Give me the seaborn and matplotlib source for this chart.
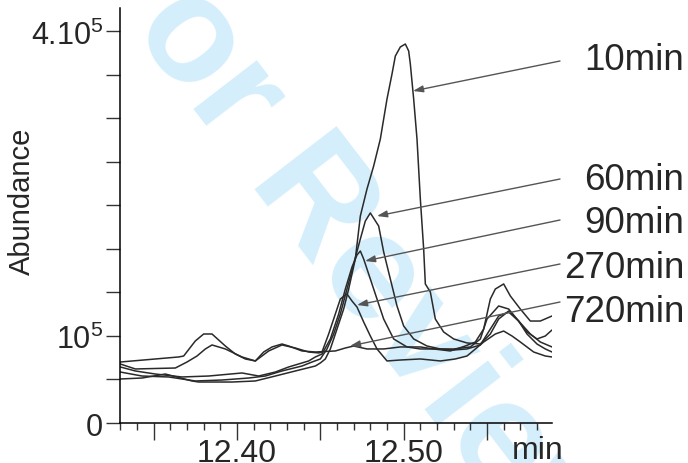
import numpy as np
import matplotlib
matplotlib.use("Agg")
import matplotlib.pyplot as plt
import seaborn as sns
import pandas as pd

# retention time (min) and abundance (x1e5)
t_10 = [12.330, 12.343, 12.357, 12.373, 12.377, 12.397, 12.411, 12.423, 12.435, 12.447,
        12.450, 12.453, 12.456, 12.460, 12.464, 12.467, 12.471, 12.474, 12.478, 12.482,
        12.486, 12.490, 12.493, 12.495, 12.498, 12.501, 12.503, 12.504, 12.506, 12.508,
        12.510, 12.512, 12.513, 12.516, 12.519, 12.524, 12.530, 12.538, 12.546, 12.552,
        12.557, 12.563, 12.569, 12.576, 12.582, 12.589]
ab_10 = [0.506, 0.517, 0.563, 0.483, 0.471, 0.471, 0.483, 0.540, 0.598, 0.655,
         0.690, 0.736, 0.851, 1.080, 1.310, 1.540, 1.885, 2.379, 2.690, 2.954,
         3.264, 3.724, 4.011, 4.218, 4.322, 4.356, 4.276, 4.126, 3.724, 3.264,
         2.575, 2.000, 1.598, 1.506, 1.195, 1.046, 0.966, 0.920, 0.908, 1.023,
         1.195, 1.287, 1.172, 1.023, 0.931, 0.874]

t_60 = [12.330, 12.343, 12.359, 12.375, 12.391, 12.407, 12.417, 12.427, 12.439, 12.445,
        12.450, 12.454, 12.458, 12.462, 12.466, 12.470, 12.474, 12.477, 12.480, 12.485,
        12.488, 12.492, 12.496, 12.500, 12.506, 12.514, 12.522, 12.530, 12.538, 12.546,
        12.552, 12.557, 12.563, 12.569, 12.574, 12.580, 12.585, 12.589]
ab_60 = [0.586, 0.540, 0.529, 0.483, 0.494, 0.517, 0.540, 0.598, 0.655, 0.701,
         0.736, 0.851, 1.023, 1.253, 1.540, 1.828, 2.115, 2.322, 2.414, 2.264,
         1.966, 1.655, 1.345, 1.115, 0.966, 0.885, 0.851, 0.839, 0.851, 0.897,
         1.080, 1.230, 1.276, 1.172, 1.023, 0.908, 0.851, 0.816]

t_90 = [12.330, 12.339, 12.351, 12.367, 12.383, 12.403, 12.413, 12.423, 12.431, 12.443,
        12.447, 12.451, 12.456, 12.461, 12.465, 12.469, 12.472, 12.474, 12.476, 12.480,
        12.484, 12.488, 12.494, 12.502, 12.510, 12.520, 12.530, 12.540, 12.546, 12.550,
        12.557, 12.563, 12.568, 12.574, 12.580, 12.585, 12.589]
ab_90 = [0.644, 0.598, 0.563, 0.529, 0.540, 0.575, 0.540, 0.586, 0.644, 0.713,
         0.759, 0.793, 0.966, 1.253, 1.540, 1.793, 1.931, 1.977, 1.885, 1.655,
         1.425, 1.195, 0.966, 0.874, 0.851, 0.851, 0.851, 0.874, 0.966, 1.195,
         1.345, 1.310, 1.195, 1.046, 0.966, 1.000, 1.069]

t_270 = [12.330, 12.339, 12.363, 12.370, 12.376, 12.381, 12.385, 12.393, 12.403, 12.411,
         12.419, 12.427, 12.435, 12.443, 12.449, 12.451, 12.455, 12.459, 12.462, 12.465,
         12.466, 12.469, 12.472, 12.476, 12.480, 12.484, 12.490, 12.498, 12.510, 12.522,
         12.531, 12.538, 12.548, 12.555, 12.560, 12.565, 12.570, 12.578, 12.585, 12.589]
ab_270 = [0.678, 0.621, 0.632, 0.701, 0.770, 0.851, 0.897, 0.851, 0.759, 0.713,
          0.828, 0.897, 0.862, 0.816, 0.805, 0.816, 1.023, 1.253, 1.425, 1.471,
          1.483, 1.402, 1.333, 1.161, 1.000, 0.851, 0.713, 0.724, 0.736, 0.713,
          0.736, 0.770, 0.931, 1.023, 1.057, 1.000, 0.931, 0.816, 0.770, 0.759]

t_720 = [12.330, 12.365, 12.368, 12.375, 12.380, 12.385, 12.393, 12.399, 12.405, 12.411,
         12.416, 12.421, 12.427, 12.431, 12.439, 12.447, 12.459, 12.465, 12.470, 12.478,
         12.488, 12.498, 12.510, 12.518, 12.528, 12.537, 12.543, 12.548, 12.552, 12.555,
         12.560, 12.564, 12.570, 12.576, 12.582, 12.589]
ab_720 = [0.701, 0.759, 0.770, 0.943, 1.023, 1.023, 0.885, 0.793, 0.736, 0.713,
          0.816, 0.874, 0.908, 0.885, 0.828, 0.816, 0.828, 0.862, 0.885, 0.851,
          0.851, 0.874, 0.874, 0.851, 0.828, 0.885, 0.931, 1.080, 1.425, 1.540,
          1.598, 1.460, 1.310, 1.172, 1.172, 1.230]

samples = ["10min", "60min", "90min", "270min", "720min"]
times = [t_10, t_60, t_90, t_270, t_720]
abund = [ab_10, ab_60, ab_90, ab_270, ab_720]

# where each arrow points on its trace (time, abundance x1e5)
arrow_tip_t = [12.5056, 12.4840, 12.4768, 12.4720, 12.4678]
arrow_tip_ab = [3.816, 2.379, 1.862, 1.356, 0.885]

df = pd.concat([pd.DataFrame({"time": t, "abundance": np.array(a) * 1e5, "sample": s})
                for s, t, a in zip(samples, times, abund)], ignore_index=True)

sns.set_theme(style="ticks")
plt.rcParams["font.family"] = ["Liberation Sans", "DejaVu Sans"]
plt.rcParams["mathtext.fontset"] = "custom"
plt.rcParams["mathtext.rm"] = "Liberation Sans"
plt.rcParams["mathtext.it"] = "Liberation Sans:italic"

W, H = 688, 464
fig = plt.figure(figsize=(W / 100, H / 100), dpi=100)
ax = fig.add_axes([120 / W, 1 - 424 / H, 432 / W, 415 / H])
ax.set_facecolor("none")

# watermark behind the plot
fig.text(74 / W, 1 + 46 / H, "For Review Only", rotation=-52.4, rotation_mode="anchor",
         ha="left", va="baseline", fontsize=109, fontweight="bold", color="#d4eefb", zorder=-1)

sns.lineplot(data=df, x="time", y="abundance", units="sample", estimator=None, sort=False,
             color="#2a2a2a", lw=1.1, legend=False, ax=ax)

ax.set_xlim(12.3298, 12.589)
ax.set_ylim(0, 4.77e5)
ax.set_xlabel("")
ax.set_ylabel("")

ax.set_xticks([12.35, 12.40, 12.45, 12.50, 12.55])
ax.set_xticklabels(["", "12.40", "", "12.50", ""])
ax.set_xticks(np.arange(12.33, 12.585, 0.01), minor=True)
ax.set_yticks(np.arange(0, 4.6e5, 0.5e5))
ax.set_yticklabels(["0", "", r"$10^5$", "", "", "", "", "", "", r"$4.10^5$"])

ax.tick_params(axis="x", which="major", length=12, width=1, pad=-1, labelsize=23, color="#333333")
ax.tick_params(axis="x", which="minor", length=5, width=1, color="#333333")
ax.tick_params(axis="y", which="major", length=10, width=1, pad=2, labelsize=22, color="#333333")
sns.despine(ax=ax)
for sp in ["left", "bottom"]:
    ax.spines[sp].set_linewidth(1.1)
    ax.spines[sp].set_color("black")

fig.text(21.5 / W, 1 - 201 / H, "Abundance", rotation=90, ha="center", va="center", fontsize=21)
fig.text(512 / W, 5 / H, "min", ha="left", va="baseline", fontsize=23)

# arrows and labels on the right
label_base = [70, 190, 233, 278, 322]
arrow_start = [62, 180, 221, 265, 303]
for s, tt, aa, yb, ys in zip(samples, arrow_tip_t, arrow_tip_ab, label_base, arrow_start):
    ax.annotate("", xy=(tt, aa * 1e5), xycoords="data",
                xytext=(560, H - ys), textcoords="figure pixels",
                arrowprops=dict(arrowstyle="-|>,head_length=0.5,head_width=0.17",
                                color="#555555", lw=1.0, shrinkA=0, shrinkB=0))
    fig.text(684 / W, 1 - yb / H, s, ha="right", va="baseline", fontsize=26.5)

fig.savefig("out.png", dpi=100)
